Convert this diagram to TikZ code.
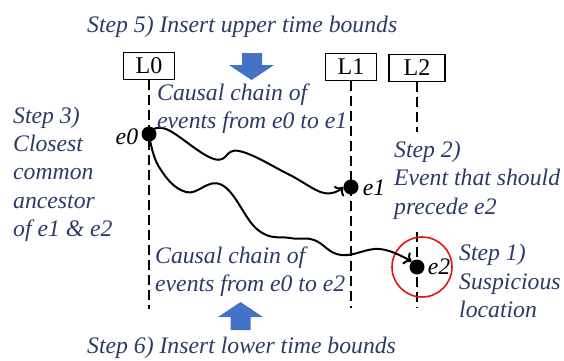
\documentclass[tikz,border=0pt]{standalone}
\usepackage{fontspec}
\setmainfont{Liberation Serif}
\usetikzlibrary{arrows.meta}
\definecolor{stepc}{RGB}{44,58,104}
\definecolor{arrowblue}{RGB}{68,114,196}
\definecolor{ringred}{RGB}{232,20,20}
\begin{document}
\begin{tikzpicture}[x=1pt,y=-1pt,
  lbox/.style={draw,line width=1.6pt,inner sep=0pt,minimum width=51pt,minimum height=27pt,font=\fontsize{24}{28}\selectfont},
  lifeline/.style={line width=1.7pt,dash pattern=on 10pt off 5pt},
  dot/.style={circle,fill=black,inner sep=0pt,minimum size=15pt},
  evlabel/.style={inner sep=0pt,font=\fontsize{23.7}{28}\selectfont\itshape},
  steptext/.style={inner sep=0pt,align=left,text=stepc,font=\fontsize{23.7}{28.3}\selectfont\itshape},
  chain/.style={line width=2pt},
  chainarrow/.style={chain,-{To[length=7pt,width=14pt]}},
  bigarrow/.style={fill=arrowblue}]
\useasboundingbox (0,0) rectangle (564,360);

% lifeline boxes
\node[lbox] (L0) at (149,66) {L0};
\node[lbox] (L1) at (351,67) {L1};
\node[lbox,minimum width=56pt] (L2) at (417,68) {L2};

% lifeline ends
\coordinate (b0) at (149,309);
\coordinate (b1) at (351,308);
\coordinate (b2) at (417,308);
\draw[lifeline] (L0.south) -- (b0);
\draw[lifeline] (L1.south) -- (b1);
\draw[lifeline] (L2.south) -- (b2);

% events
\node[dot] (e0) at (149,134) {};
\node[dot] (e1) at (351,187) {};
\node[dot] (e2) at (417,267) {};
\node[evlabel,anchor=east] (le0) at ([xshift=-3pt,yshift=-3pt]e0.west) {e0};
\node[evlabel,anchor=west] (le1) at ([xshift=4pt,yshift=-1pt]e1.east) {e1};
\node[evlabel,anchor=west] (le2) at ([xshift=3pt]e2.east) {e2};

% suspicious location ring
\node[circle,draw=ringred,line width=1.6pt,minimum size=60pt,inner sep=0pt] (ring) at (422,267) {};

% causal chains
\draw[chainarrow] plot[smooth,tension=0.7] coordinates {(e0.center) (166,129) (214,159) (239,151) (288,174) (324,193) (e1.west)};
\draw[chainarrow] plot[smooth,tension=0.7] coordinates {(e0.center) (159,167) (186,192) (222,185) (258,230) (290,238) (314,240) (341,255) (380,249) (e2.north west)};

% texts
\node[steptext,anchor=base west] (s5) at (87,32) {Step 5) Insert upper time bounds};
\node[steptext,anchor=base west] (s6) at (87,353) {Step 6) Insert lower time bounds};
\node[steptext,anchor=west] (c1) at (157,109) {Causal chain of\\events from e0 to e1};
\node[steptext,anchor=west] (c2) at (155,272) {Causal chain of\\events from e0 to e2};
\node[steptext,anchor=west] (s3) at (13,174) {Step 3)\\Closest\\common\\ancestor\\of e1 \& e2};
\node[steptext,anchor=west,fill=white,inner ysep=9pt,inner xsep=2pt] (s2) at (392,180) {Step 2)\\Event that should\\precede e2};
\node[steptext,anchor=west] (s1) at (459,281) {Step 1)\\Suspicious\\location};

% big blue arrows
\fill[bigarrow] (242,53) -- (262,53) -- (262,65) -- (274,65) -- (251.5,80) -- (229,65) -- (242,65) -- cycle;
\fill[bigarrow] (230.5,330) -- (250.5,330) -- (250.5,317) -- (263,317) -- (240.5,302) -- (218,317) -- (230.5,317) -- cycle;
\end{tikzpicture}
\end{document}
